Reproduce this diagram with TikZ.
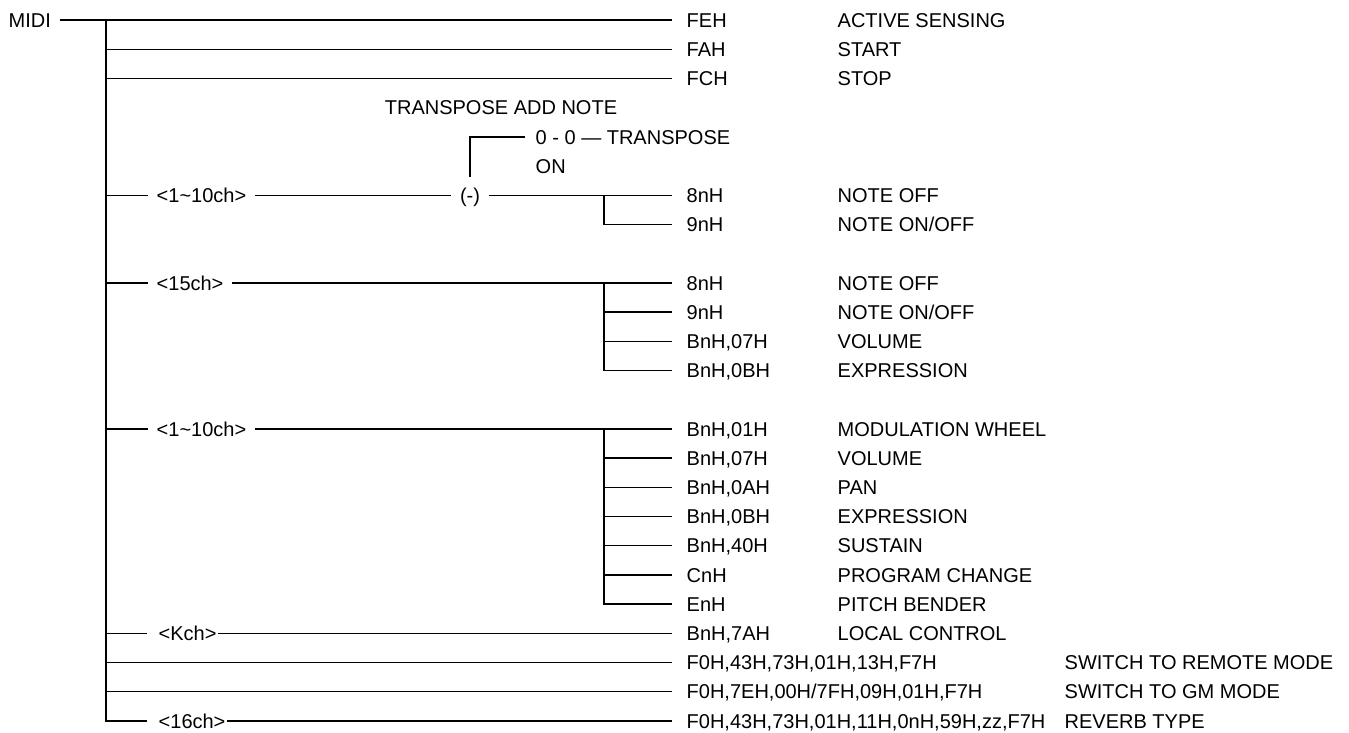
\documentclass[tikz,border=0pt]{standalone}
\usepackage{fontspec}
\setmainfont{Liberation Sans}
\usetikzlibrary{positioning}

\begin{document}
\begin{tikzpicture}[x=0.5pt,y=-14.6pt,line width=0.7pt,
        lbl/.style={inner xsep=4pt,inner ysep=2pt,text height=7.2pt,text depth=0pt,
                    font=\fontsize{10}{12}\selectfont},
        chlbl/.style={lbl,anchor=west},
        tight/.style={lbl,anchor=west,inner xsep=0.5pt},
        code/.style={lbl,anchor=west,inner xsep=7pt},
        desc/.style={lbl,anchor=west,inner xsep=0pt}]
    \useasboundingbox (0,-0.685) rectangle (1349,24.384);

    % trunk
    \node[chlbl] (midi) at (0,0) {MIDI};
    \coordinate (trunk) at (106,0);

    % system messages
    \node[code] (feh) at (672,0) {FEH};
    \node[desc] (fehtxt) at (837,0) {ACTIVE SENSING};
    \node[code] (fah) at (672,1) {FAH};
    \node[desc] (fahtxt) at (837,1) {START};
    \node[code] (fch) at (672,2) {FCH};
    \node[desc] (fchtxt) at (837,2) {STOP};

    % transpose branch
    \node[lbl] (addnote) at (501,3) {TRANSPOSE ADD NOTE};
    \node[lbl,anchor=west,inner xsep=5pt] (zero) at (525,4) {0 - 0 — TRANSPOSE};
    \node[lbl,anchor=west,inner xsep=5pt] (on) at (525,5) {ON};

    % channels 1-10, notes
    \node[chlbl] (chA) at (148,6) {<1\textasciitilde10ch>};
    \node[lbl,inner ysep=5.4pt] (op) at (470,6) {(-)};
    \node[code] (noffA) at (672,6) {8nH};
    \node[desc] (noffAtxt) at (837,6) {NOTE OFF};
    \node[code] (nonA) at (672,7) {9nH};
    \node[desc] (nonAtxt) at (837,7) {NOTE ON/OFF};
    \coordinate (jA) at (604,6);

    % channel 15
    \node[chlbl] (chB) at (148,9) {<15ch>};
    \node[code] (noffB) at (672,9) {8nH};
    \node[desc] (noffBtxt) at (837,9) {NOTE OFF};
    \node[code] (nonB) at (672,10) {9nH};
    \node[desc] (nonBtxt) at (837,10) {NOTE ON/OFF};
    \node[code] (volB) at (672,11) {BnH,07H};
    \node[desc] (volBtxt) at (837,11) {VOLUME};
    \node[code] (exprB) at (672,12) {BnH,0BH};
    \node[desc] (exprBtxt) at (837,12) {EXPRESSION};
    \coordinate (jB) at (604,9);

    % channels 1-10, controllers
    \node[chlbl] (chC) at (148,14) {<1\textasciitilde10ch>};
    \node[code] (mod) at (672,14) {BnH,01H};
    \node[desc] (modtxt) at (837,14) {MODULATION WHEEL};
    \node[code] (volC) at (672,15) {BnH,07H};
    \node[desc] (volCtxt) at (837,15) {VOLUME};
    \node[code] (pan) at (672,16) {BnH,0AH};
    \node[desc] (pantxt) at (837,16) {PAN};
    \node[code] (exprC) at (672,17) {BnH,0BH};
    \node[desc] (exprCtxt) at (837,17) {EXPRESSION};
    \node[code] (sus) at (672,18) {BnH,40H};
    \node[desc] (sustxt) at (837,18) {SUSTAIN};
    \node[code] (prog) at (672,19) {CnH};
    \node[desc] (progtxt) at (837,19) {PROGRAM CHANGE};
    \node[code] (bend) at (672,20) {EnH};
    \node[desc] (bendtxt) at (837,20) {PITCH BENDER};
    \coordinate (jC) at (604,14);

    % local control and exclusive messages
    \node[tight] (kch) at (157,21) {<Kch>};
    \node[code] (local) at (672,21) {BnH,7AH};
    \node[desc] (localtxt) at (837,21) {LOCAL CONTROL};
    \node[code] (remote) at (672,22) {F0H,43H,73H,01H,13H,F7H};
    \node[desc] (remotetxt) at (1064,22) {SWITCH TO REMOTE MODE};
    \node[code] (gm) at (672,23) {F0H,7EH,00H/7FH,09H,01H,F7H};
    \node[desc] (gmtxt) at (1064,23) {SWITCH TO GM MODE};
    \node[tight] (ch16) at (157,24) {<16ch>};
    \node[code] (reverb) at (672,24) {F0H,43H,73H,01H,11H,0nH,59H,zz,F7H};
    \node[desc] (reverbtxt) at (1064,24) {REVERB TYPE};

    \draw (midi) -- (feh.west);
    \draw[shorten >=5pt] (trunk) |- (ch16.west);
    \draw (trunk |- fah) -- (fah.west);
    \draw (trunk |- fch) -- (fch.west);

    \draw (trunk |- chA) -- (chA.west);
    \draw (chA) -- (op);
    \draw (op) -- (noffA.west);
    \draw (op.north) |- (zero.west);
    \draw (jA) |- (nonA.west);

    \draw (trunk |- chB) -- (chB.west);
    \draw (chB) -- (noffB.west);
    \draw (jB) |- (exprB.west);
    \draw (jB |- nonB) -- (nonB.west);
    \draw (jB |- volB) -- (volB.west);

    \draw (trunk |- chC) -- (chC.west);
    \draw (chC) -- (mod.west);
    \draw (jC) |- (bend.west);
    \draw (jC |- volC) -- (volC.west);
    \draw (jC |- pan) -- (pan.west);
    \draw (jC |- exprC) -- (exprC.west);
    \draw (jC |- sus) -- (sus.west);
    \draw (jC |- prog) -- (prog.west);

    \draw[shorten >=5pt] (trunk |- kch) -- (kch.west);
    \draw (kch) -- (local.west);
    \draw (trunk |- remote) -- (remote.west);
    \draw (trunk |- gm) -- (gm.west);
    \draw (ch16) -- (reverb.west);
\end{tikzpicture}
\end{document}
